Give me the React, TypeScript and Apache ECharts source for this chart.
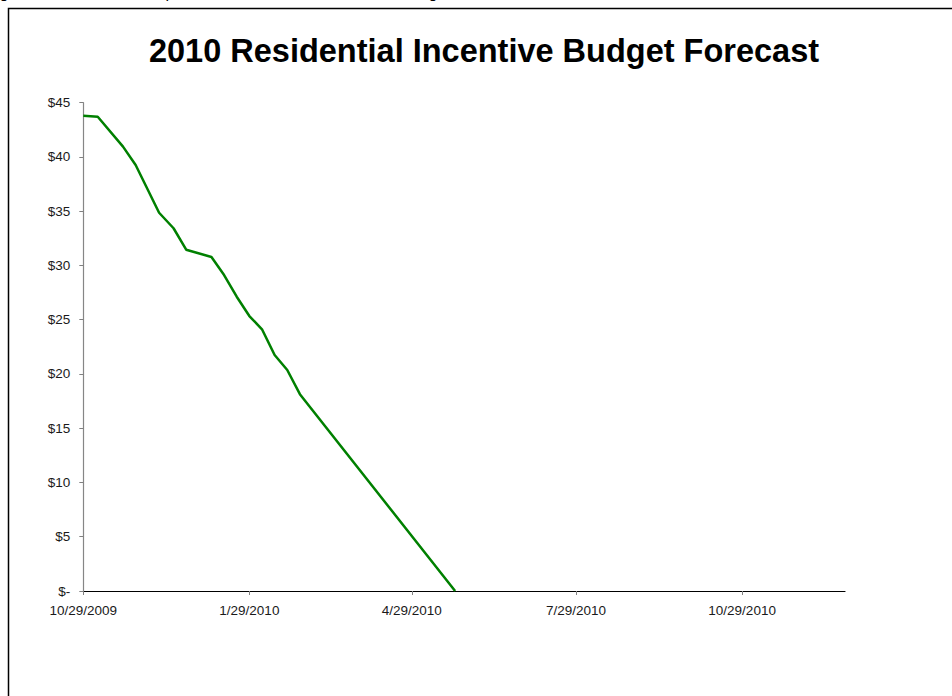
import React, { useEffect, useRef } from "react";
import * as echarts from "echarts";

// Days since 10/29/2009
const pointDays = [0, 8, 22, 29, 42, 50, 57, 71, 78, 85, 92, 99, 106, 113, 120, 206];
const budgetValues = [43.8, 43.71, 40.95, 39.26, 34.86, 33.43, 31.45, 30.78, 29.12, 27.12, 25.34, 24.12, 21.75, 20.37, 18.14, 0];
const xTickDays = [0, 92, 182, 273, 365];
const xTickLabels = ["10/29/2009", "1/29/2010", "4/29/2010", "7/29/2010", "10/29/2010"];
const xMaxDay = 422;
const titleText = "2010 Residential Incentive Budget Forecast";

const FONT = "'Liberation Sans', Arial, sans-serif";

export default function App() {
  const ref = useRef<HTMLDivElement>(null);
  useEffect(() => {
    document.body.style.margin = "0";
    if (!ref.current) return;
    const chart = echarts.init(ref.current, null, { renderer: "svg" });
    const data = pointDays.map((d, i) => [d, budgetValues[i]]);
    chart.setOption({
      animation: false,
      backgroundColor: "#ffffff",
      grid: { left: 83.3, right: 107, top: 102.7, bottom: 105, containLabel: false },
      xAxis: {
        type: "value",
        min: 0,
        max: xMaxDay,
        splitLine: { show: false },
        axisLine: { show: true, onZero: false, lineStyle: { color: "#000000", width: 1.2 } },
        axisTick: {
          show: true,
          customValues: xTickDays,
          length: 4,
          lineStyle: { color: "#808080", width: 1 },
        },
        axisLabel: {
          show: true,
          customValues: xTickDays,
          margin: 12,
          color: "#1a1a1a",
          fontSize: 13.5,
          fontFamily: FONT,
          formatter: (v: number) => {
            const i = xTickDays.indexOf(Math.round(v));
            return i >= 0 ? xTickLabels[i] : "";
          },
        },
      },
      yAxis: {
        type: "value",
        min: 0,
        max: 45,
        interval: 5,
        splitLine: { show: false },
        axisLine: { show: true, lineStyle: { color: "#868686", width: 1.2 } },
        axisTick: { show: true, length: 4, lineStyle: { color: "#808080", width: 1 } },
        axisLabel: {
          margin: 13,
          color: "#1a1a1a",
          fontSize: 13.5,
          fontFamily: FONT,
          formatter: (v: number) => (v === 0 ? "$-" : "$" + v),
        },
      },
      series: [
        {
          type: "line",
          data,
          symbol: "none",
          lineStyle: { color: "#008000", width: 2.5 },
          z: 1,
        },
      ],
      graphic: [
        {
          type: "rect",
          shape: { x: 8.5, y: 8.5, width: 960, height: 700 },
          style: { fill: "none", stroke: "#000000", lineWidth: 1.5 },
          silent: true,
          z: -1,
        },
        {
          type: "text",
          x: 484,
          y: 51,
          style: {
            text: titleText,
            fontSize: 32.5,
            fontWeight: "bold",
            fontFamily: FONT,
            fill: "#000000",
            align: "center",
            verticalAlign: "middle",
          },
        },
        {
          type: "text",
          x: 4,
          y: 0,
          style: { text: "g", fontSize: 16, fontFamily: FONT, fill: "#000", align: "center", verticalAlign: "bottom" },
        },
        {
          type: "text",
          x: 170,
          y: 0,
          style: { text: "p", fontSize: 16, fontFamily: FONT, fill: "#000", align: "center", verticalAlign: "bottom" },
        },
        {
          type: "text",
          x: 433,
          y: 0,
          style: { text: "g", fontSize: 16, fontFamily: FONT, fill: "#000", align: "center", verticalAlign: "bottom" },
        },
      ],
    });
    return () => chart.dispose();
  }, []);
  return <div ref={ref} style={{ width: 952, height: 696 }} />;
}
